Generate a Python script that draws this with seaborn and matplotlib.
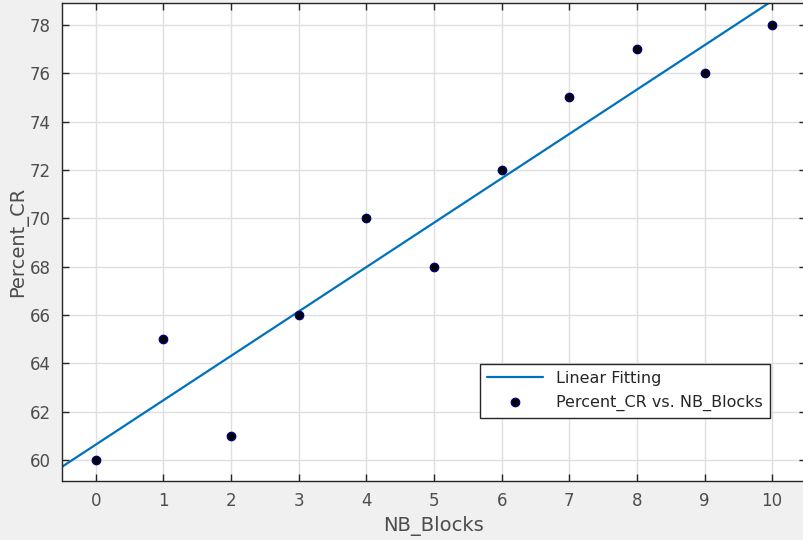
import numpy as np
import pandas as pd
import matplotlib
matplotlib.use("Agg")
import matplotlib.pyplot as plt
import seaborn as sns

nb_blocks = [0, 1, 2, 3, 4, 5, 6, 7, 8, 9, 10]
percent_cr = [60, 65, 61, 66, 70, 68, 72, 75, 77, 76, 78]
x_ticks = [0, 1, 2, 3, 4, 5, 6, 7, 8, 9, 10]
y_ticks = [60, 62, 64, 66, 68, 70, 72, 74, 76, 78]

df = pd.DataFrame({"NB_Blocks": nb_blocks, "Percent_CR": percent_cr})

sns.set_style("whitegrid")
plt.rcParams['font.family'] = ['DejaVu Sans']

fig = plt.figure(figsize=(8.04, 5.40), dpi=100, facecolor="#f0f0f0")
ax = fig.add_axes([62/804, (540-481)/540, (806-62)/804, (481-3)/540])
ax.set_facecolor("white")
ax.set_xlim(-0.5, 10.5)
ax.set_ylim(59.13, 78.91)

sns.regplot(data=df, x="NB_Blocks", y="Percent_CR", ax=ax, scatter=False,
            ci=None, truncate=False, color="#0072BD",
            line_kws={"linewidth": 1.6})
fit_line = ax.lines[-1]
sns.scatterplot(data=df, x="NB_Blocks", y="Percent_CR", ax=ax, color="black",
                edgecolor="#00007a", linewidth=1.0, s=36, zorder=5, legend=False)
pts = ax.collections[-1]

ax.set_xticks(x_ticks)
ax.set_yticks(y_ticks)
ax.grid(True, color="#dfdfdf", linewidth=1.0)
ax.tick_params(direction="in", length=5, width=1, colors="#262626",
               labelcolor="#4d4d4d", labelsize=12, top=True, right=True,
               bottom=True, left=True, pad=8)
for s in ax.spines.values():
    s.set_color("#262626")
    s.set_linewidth(1.0)
    s.set_visible(True)

ax.set_xlabel("NB_Blocks", fontsize=14, color="#4d4d4d", labelpad=4)
ax.set_ylabel("Percent_CR", fontsize=14, color="#4d4d4d", labelpad=1.5)

leg = ax.legend([fit_line, pts], ["Linear Fitting", "Percent_CR vs. NB_Blocks"],
                loc="lower left", bbox_to_anchor=(480/804, (540-418)/540),
                bbox_transform=fig.transFigure, fontsize=11.5, frameon=True,
                fancybox=False, framealpha=1, edgecolor="#262626",
                borderpad=0.45, handlelength=3.5, labelspacing=0.55,
                borderaxespad=0)
leg.get_frame().set_linewidth(1.0)
for t in leg.get_texts():
    t.set_color("#262626")

fig.savefig("out.png", dpi=100, facecolor=fig.get_facecolor())
